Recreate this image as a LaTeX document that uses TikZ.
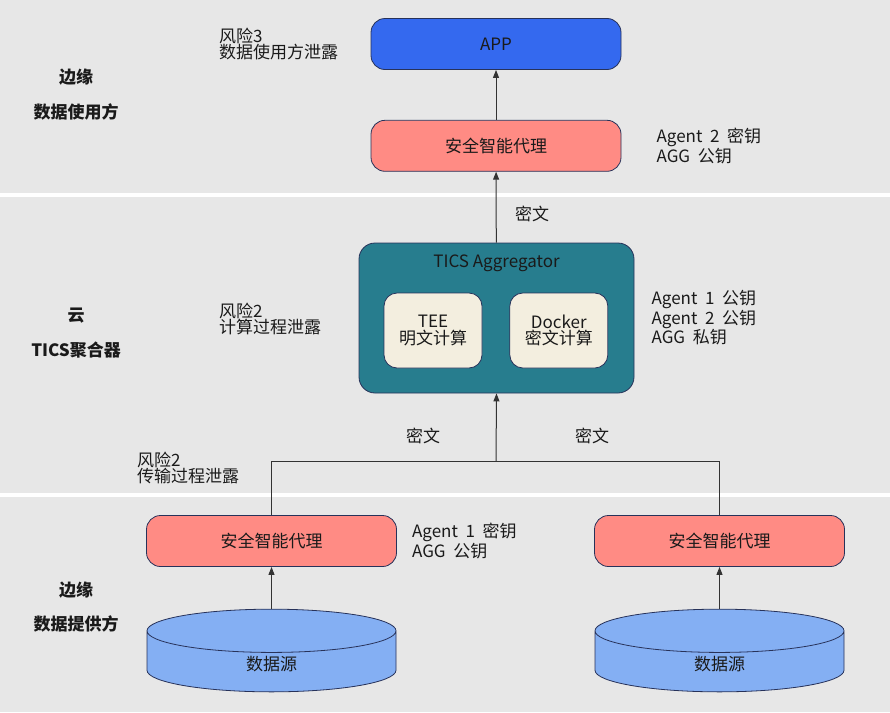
\documentclass[tikz,border=0pt]{standalone}
\usepackage{fontspec}
\setmainfont{Noto Sans CJK SC}
\usetikzlibrary{arrows.meta,positioning,shapes.geometric}
\definecolor{ink}{HTML}{1A1A1A}
\definecolor{bandbg}{HTML}{E7E7E7}
\definecolor{appblue}{HTML}{3469EF}
\definecolor{agentred}{HTML}{FF8B84}
\definecolor{aggteal}{HTML}{277D8E}
\definecolor{cream}{HTML}{F3EEDF}
\definecolor{dbblue}{HTML}{84AFF3}
\definecolor{rim}{HTML}{27325A}
\definecolor{wire}{HTML}{333333}

\begin{document}
\begin{tikzpicture}[x=1pt,y=-1pt,
  font=\fontsize{17}{16.5}\selectfont,text=ink,
  box/.style={draw=rim,line width=0.8pt,rounded corners=14pt,minimum width=250pt,
              minimum height=51pt,align=center},
  inbox/.style={draw=rim,line width=0.8pt,fill=cream,rounded corners=13pt,
                minimum width=98pt,minimum height=75pt,align=center},
  store/.style={cylinder,shape border rotate=90,aspect=0.75,draw=rim,line width=0.8pt,
                cylinder uses custom fill,cylinder body fill=dbblue,cylinder end fill=dbblue,
                minimum width=249pt,minimum height=67pt},
  note/.style={inner sep=0pt,align=left},
  band/.style={font=\fontsize{17}{16.5}\selectfont\bfseries},
  arr/.style={-{Triangle[length=8pt,width=6pt]},line width=1pt,draw=wire},
  link/.style={line width=1pt,draw=wire}]

% background bands
\fill[white] (0,0) rectangle (890,712);
\fill[bandbg] (0,0) rectangle (890,193);
\fill[bandbg] (0,197) rectangle (890,493);
\fill[bandbg] (0,497) rectangle (890,712);

% user side
\node[box,fill=appblue] (app) at (496,44) {APP};
\node[box,fill=agentred,below=50pt of app] (agentU) {安全智能代理};

% aggregator
\node[draw=rim,line width=0.8pt,fill=aggteal,rounded corners=16pt,
      minimum width=275pt,minimum height=150pt] (agg) at (496.5,318) {};
\node[inner sep=0pt,below=12pt of agg.north] (aggtitle) {TICS Aggregator};
\node[inbox] (tee) at (433,330.5) {TEE\\明文计算};
\node[inbox,right=27pt of tee] (dock) {Docker\\密文计算};

% provider side
\node[box,fill=agentred] (agentL) at (271.5,541) {安全智能代理};
\node[box,fill=agentred] (agentR) at (719.5,541) {安全智能代理};
\node[store] (dbL) at (271.5,664) {数据源};
\node[store] (dbR) at (719.5,664) {数据源};

\coordinate (jn) at (496,461);

\draw[arr] (agentU) -- (app);
\draw[arr] (agg) -- (agentU);
\draw[link] (agentL.north) -- (agentL.north |- jn) -- (agentR.north |- jn) -- (agentR.north);
\draw[arr] (jn) -- (agg.south);
\draw[arr] (dbL.north) -- (agentL.south);
\draw[arr] (dbR.north) -- (agentR.south);

\node (c1) at (532,214) {密文};
\node (c2) at (423,436) {密文};
\node (c3) at (592,436) {密文};

% keys
\node[note,right=35pt of agentU] (kU) {Agent\ \ 2\ \ 密钥\\AGG\ \ 公钥};
\node[note,right=17pt of agg] (kA) {Agent\ \ 1\ \ 公钥\\Agent\ \ 2\ \ 公钥\\AGG\ \ 私钥};
\node[note,right=15pt of agentL] (kL) {Agent\ \ 1\ \ 密钥\\AGG\ \ 公钥};

% risks
\node[note,anchor=west] (r3) at (219,44) {风险3\\数据使用方泄露};
\node[note,anchor=west] (r2a) at (219,319) {风险2\\计算过程泄露};
\node[note,anchor=west] (r2b) at (137,468) {风险2\\传输过程泄露};

% band names
\node[band] (b1a) at (76,77) {边缘};
\node[band] (b1b) at (76,112) {数据使用方};
\node[band] (b2a) at (76,316) {云};
\node[band] (b2b) at (76,350) {TICS聚合器};
\node[band] (b3a) at (76,590) {边缘};
\node[band] (b3b) at (76,624) {数据提供方};
\end{tikzpicture}
\end{document}
